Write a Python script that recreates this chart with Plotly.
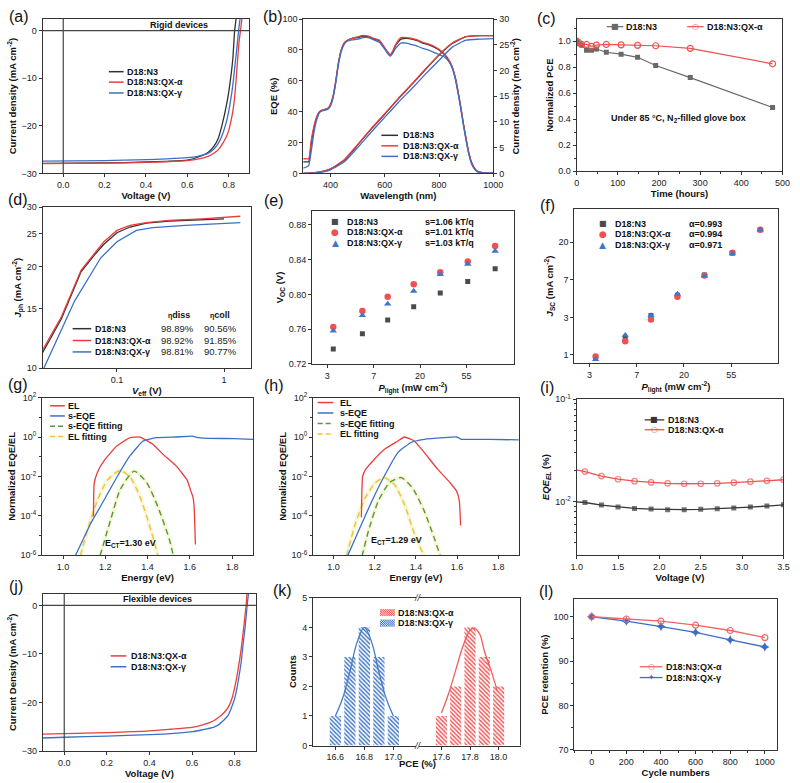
import numpy as np
import plotly.graph_objects as go

W, H = 800, 783
FONT = "Liberation Sans, Arial, Helvetica, sans-serif"
GLYPH = "DejaVu Sans"
RED = "rgb(236,60,60)"
BLUE = "rgb(60,112,196)"
DARK = "rgb(50,50,50)"
GRAY = "rgb(105,105,105)"
GREEN = "rgb(90,150,60)"
GOLD = "rgb(245,192,55)"

# ---------------- data ----------------
# (a) rigid J-V
a_V_n3 = [-0.1, 0.2, 0.4, 0.5, 0.6, 0.65, 0.7, 0.73, 0.75, 0.77, 0.79, 0.80, 0.813, 0.82, 0.829, 0.836]
a_J_n3 = [-27.9, -27.8, -27.6, -27.45, -27.2, -26.6, -25.6, -24.2, -22.6, -19.5, -15.5, -13.0, -8.8, -6.0, 0.0, 2.5]
a_V_a = [-0.1, 0.2, 0.4, 0.5, 0.6, 0.65, 0.7, 0.73, 0.75, 0.77, 0.79, 0.80, 0.81, 0.82, 0.83, 0.84, 0.85, 0.857, 0.864]
a_J_a = [-27.95, -27.85, -27.7, -27.55, -27.3, -27.0, -26.4, -25.7, -25.0, -23.8, -22.2, -21.0, -19.2, -17.0, -13.5, -8.0, -2.5, 0.0, 2.5]
a_V_g = [-0.1, 0.2, 0.4, 0.5, 0.6, 0.65, 0.7, 0.73, 0.75, 0.77, 0.79, 0.80, 0.81, 0.82, 0.83, 0.84, 0.848, 0.855]
a_J_g = [-27.4, -27.3, -27.1, -26.95, -26.7, -26.4, -25.8, -24.8, -23.7, -21.8, -19.0, -17.0, -14.5, -11.5, -7.5, -3.5, 0.0, 2.5]

# (b) EQE + integrated current
b_wl = [300, 310, 320, 330, 340, 350, 360, 370, 380, 390, 400, 410, 420, 430, 440, 450, 460, 480, 500, 520,
        540, 560, 580, 600, 610, 620, 630, 640, 660, 680, 700, 720, 740, 760, 780, 800, 820, 840, 850, 860,
        870, 880, 890, 900, 910, 920, 930, 940, 960, 980, 1000]
b_eqe_n3 = [7.5, 7.5, 7.5, 20, 30, 36, 40, 41, 41.5, 42, 44.5, 50, 60, 72, 80, 84, 86, 87.5, 88, 89,
            88.5, 87, 86, 81, 78.5, 76.5, 79, 83, 87, 87.5, 87, 86, 84.5, 83.5, 82, 80, 77, 72, 68, 62,
            53, 43, 32, 22, 13, 7, 3.5, 1.5, 0.5, 0.2, 0.1]
b_eqe_a = [9.5, 9.5, 9.5, 22, 31, 37, 40, 41, 41.5, 42, 44.5, 50, 60, 72, 80, 84.5, 86, 87.5, 88.5, 89.5,
           89, 87.5, 86.5, 81.5, 79, 77, 79.5, 83.5, 88, 88, 87.5, 86.5, 85, 84, 82.5, 80.5, 77.5, 72.5, 68.5, 62,
           53, 43, 32, 22, 13, 7, 3.5, 1.5, 0.5, 0.2, 0.1]
b_eqe_g = [3.5, 4, 5, 15, 27, 35, 39.5, 40.5, 41, 41.5, 43.5, 49, 59, 71, 79, 83.5, 85.5, 86.5, 87, 88,
           88, 86.5, 85, 80.5, 78, 76, 78, 81, 84.5, 84.5, 83.5, 82.5, 81, 80, 78.5, 77, 75.5, 71.5, 67.5, 61,
           52, 42, 31, 21, 12, 6, 3, 1.2, 0.4, 0.15, 0.1]
b_wlj = [300, 350, 400, 450, 500, 550, 600, 650, 700, 750, 800, 850, 900, 950, 1000]
b_j_n3 = [0, 0.18, 0.85, 2.5, 5.5, 8.6, 11.5, 14.5, 17.3, 20.2, 23.0, 25.3, 26.6, 26.8, 26.8]
b_j_a = [0, 0.2, 0.9, 2.6, 5.6, 8.7, 11.6, 14.6, 17.4, 20.3, 23.1, 25.4, 26.6, 26.8, 26.8]
b_j_g = [0, 0.1, 0.7, 2.2, 5.0, 8.0, 10.9, 13.8, 16.5, 19.3, 22.0, 24.6, 25.9, 26.1, 26.2]

# (c) thermal stability
c_t = [0, 5, 12, 24, 36, 48, 72, 108, 148, 192, 276, 476]
c_n3 = [1.0, 0.98, 0.97, 0.93, 0.93, 0.94, 0.915, 0.90, 0.876, 0.813, 0.72, 0.49]
c_a = [1.0, 0.99, 0.975, 0.975, 0.96, 0.97, 0.975, 0.972, 0.968, 0.965, 0.945, 0.826]

# (d) Jph-Veff
d_V_n3 = [0.0202, 0.0303, 0.0462, 0.0612, 0.0755, 0.1, 0.1324, 0.188, 0.307, 0.621, 1.0]
d_J_n3 = [11.1, 14.0, 19.3, 21.6, 23.3, 25.2, 26.2, 26.9, 27.3, 27.6, 27.7]
d_V_a = [0.0202, 0.0303, 0.0462, 0.0612, 0.0755, 0.1, 0.1324, 0.188, 0.307, 0.621, 1.42]
d_J_a = [11.3, 14.2, 19.5, 21.9, 23.7, 25.6, 26.5, 27.0, 27.4, 27.7, 28.2]
d_V_g = [0.0205, 0.0402, 0.0704, 0.1, 0.152, 0.216, 0.437, 1.42]
d_J_g = [9.9, 15.8, 21.2, 23.7, 25.6, 26.1, 26.5, 27.0]
d_names = ["D18:N3", "D18:N3:QX-α", "D18:N3:QX-γ"]
d_diss = ["98.89%", "98.92%", "98.81%"]
d_coll = ["90.56%", "91.85%", "90.77%"]

# (e),(f) light-intensity dependence
P_light = [3.1, 5.8, 10.0, 17.5, 31.0, 56.0, 101.0]
e_voc_n3 = [0.737, 0.7545, 0.7704, 0.7856, 0.8015, 0.8148, 0.8296]
e_voc_a = [0.7625, 0.7807, 0.7973, 0.8117, 0.8254, 0.8379, 0.8557]
e_voc_g = [0.7579, 0.7757, 0.789, 0.8038, 0.8231, 0.8349, 0.85]
e_s = ["s=1.06 kT/q", "s=1.01 kT/q", "s=1.03 kT/q"]
f_jsc_n3 = [0.92, 1.55, 2.86, 4.9, 8.4, 15.1, 28.0]
f_jsc_a = [0.96, 1.44, 2.57, 4.7, 8.3, 15.2, 28.0]
f_jsc_g = [0.89, 1.69, 2.86, 5.05, 8.2, 14.8, 28.0]
f_alpha = ["α=0.993", "α=0.994", "α=0.971"]
ln_ticktext = ["3", "7", "20", "55"]
ln_ticktext_y = ["1", "3", "7", "20"]

# (g) EL / s-EQE, D18:N3
g_E_el = [1.144, 1.147, 1.163, 1.194, 1.255, 1.317, 1.364, 1.425, 1.472, 1.534, 1.588, 1.603, 1.614, 1.620, 1.626]
g_el = [9.3e-5, 4.3e-3, 1.66e-2, 6.3e-2, 0.355, 0.93, 1.0, 0.43, 0.135, 0.035, 6.3e-3, 2.0e-3, 9.3e-4, 3.0e-4, 3.5e-6]
g_E_eqe = [1.058, 1.132, 1.194, 1.255, 1.317, 1.379, 1.441, 1.534, 1.611, 1.642, 1.688, 1.812, 1.9]
g_eqe = [9.3e-7, 4.3e-5, 6.3e-4, 9.3e-3, 0.112, 0.63, 0.93, 1.0, 1.1, 0.93, 0.85, 0.83, 0.76]
g_E_fel = [1.082, 1.116, 1.163, 1.209, 1.268, 1.317, 1.364, 1.41, 1.449]
g_fel = [9.3e-7, 2.0e-5, 6.3e-4, 6.3e-3, 2.0e-2, 9.3e-3, 9.3e-4, 2.95e-5, 9.3e-7]
g_E_feqe = [1.175, 1.225, 1.271, 1.336, 1.395, 1.449, 1.503, 1.522]
g_feqe = [9.3e-7, 6.3e-5, 2.24e-3, 1.86e-2, 5.0e-3, 2.8e-4, 6.3e-6, 9.3e-7]

# (h) EL / s-EQE, D18:N3:QX-α
h_E_el = [1.135, 1.141, 1.155, 1.186, 1.249, 1.313, 1.344, 1.392, 1.44, 1.503, 1.567, 1.598, 1.611, 1.617]
h_el = [8.3e-5, 1.0e-2, 2.2e-2, 5.4e-2, 0.245, 0.63, 1.0, 0.63, 0.166, 2.5e-2, 4.6e-3, 1.74e-3, 5.6e-4, 3.2e-5]
h_E_eqe = [1.067, 1.122, 1.186, 1.249, 1.313, 1.376, 1.44, 1.535, 1.598, 1.622, 1.638, 1.757, 1.9]
h_eqe = [8.7e-7, 1.8e-5, 5.6e-4, 1.17e-2, 0.166, 0.525, 0.76, 0.93, 1.0, 0.76, 0.76, 0.76, 0.71]
h_E_fel = [1.062, 1.106, 1.154, 1.202, 1.246, 1.297, 1.344, 1.392, 1.44]
h_fel = [8.7e-7, 4.0e-5, 8.3e-4, 4.6e-3, 8.7e-3, 3.7e-3, 3.8e-4, 1.26e-5, 8.7e-7]
h_E_feqe = [1.138, 1.17, 1.217, 1.273, 1.329, 1.384, 1.44, 1.487, 1.519]
h_feqe = [8.7e-7, 1.8e-5, 5.6e-4, 5.0e-3, 8.7e-3, 2.5e-3, 1.78e-4, 8.5e-6, 8.7e-7]

# (i) EQE_EL vs voltage
i_V = [1.0, 1.1, 1.3, 1.5, 1.7, 1.9, 2.1, 2.3, 2.5, 2.7, 2.9, 3.1, 3.3, 3.5]
i_n3 = [0.0100, 0.00985, 0.00929, 0.00889, 0.00863, 0.0085, 0.00838, 0.00838, 0.00844, 0.00856, 0.00869, 0.00889, 0.00909, 0.00935]
i_a = [0.0205, 0.0197, 0.0178, 0.0166, 0.0159, 0.01546, 0.01513, 0.0150, 0.0150, 0.01513, 0.01535, 0.0157, 0.0160, 0.0164]

# (j) flexible J-V
j_V_a = [-0.1, 0.0, 0.2, 0.4, 0.5, 0.6, 0.65, 0.7, 0.724, 0.75, 0.77, 0.79, 0.80, 0.81, 0.82, 0.831, 0.84, 0.854, 0.858]
j_J_a = [-26.5, -26.4, -26.2, -25.85, -25.5, -25.1, -24.6, -23.8, -23.1, -22.1, -21.0, -18.8, -17.0, -14.8, -12.2, -8.9, -5.6, 0.0, 2.4]
j_V_g = [-0.1, 0.0, 0.2, 0.4, 0.5, 0.6, 0.65, 0.7, 0.724, 0.75, 0.77, 0.79, 0.80, 0.81, 0.82, 0.831, 0.84, 0.85, 0.859, 0.865]
j_J_g = [-27.3, -27.15, -26.9, -26.6, -26.4, -26.0, -25.6, -25.1, -24.6, -23.6, -22.6, -20.5, -19.2, -17.3, -14.8, -11.6, -8.0, -4.2, 0.0, 2.4]

# (k) PCE histogram
k_pce_g = [16.6, 16.7, 16.8, 16.9, 17.0]
k_cnt_g = [1, 3, 4, 3, 1]
k_pce_a = [17.6, 17.7, 17.8, 17.9, 18.0]
k_cnt_a = [1, 2, 4, 3, 2]
k_fit_xg = [16.6, 16.65, 16.7, 16.75, 16.8, 16.85, 16.9, 16.95, 17.0]
k_fit_yg = [1.0, 1.6, 2.5, 3.5, 4.0, 3.5, 2.5, 1.6, 1.0]
k_fit_xa = [17.6, 17.65, 17.7, 17.75, 17.8, 17.83, 17.87, 17.9, 17.95, 17.99]
k_fit_ya = [1.1, 1.75, 2.55, 3.35, 3.9, 3.97, 3.75, 3.2, 2.5, 1.85]

# (l) bending cycles
l_cyc = [0, 200, 400, 600, 800, 1000]
l_a = [100, 99.5, 99.0, 98.1, 96.9, 95.3]
l_g = [100, 99.0, 97.8, 96.5, 94.8, 93.2]


# ---------------- helpers ----------------
def X(p):
    return p / W


def Y(p):
    return 1 - p / H


layout = {}
shapes = []
annos = []


def ref(letter, n):
    return letter if n == 1 else f"{letter}{n}"


def axis(n, letter, p0, p1, rng, title="", anchor=None, standoff=3, tsize=9.5, **kw):
    a = dict(showline=True, linecolor="#333", linewidth=1, mirror=True, ticks="outside",
             ticklen=3, tickwidth=1, tickcolor="#333", showgrid=False, zeroline=False,
             tickfont=dict(family=FONT, size=9, color="#222"))
    dom = [X(p0), X(p1)] if letter == "x" else [Y(p1), Y(p0)]
    a.update(domain=dom, range=rng, anchor=anchor)
    if title:
        a["title"] = dict(text=title, font=dict(family=FONT, size=tsize, color="#111"), standoff=standoff)
    a.update(kw)
    layout[f"{letter}axis{'' if n == 1 else n}"] = a


def T(x, y, text, size=9, xanchor="left", bold=True, color="#111", family=FONT):
    annos.append(dict(x=X(x), y=Y(y), xref="paper", yref="paper",
                      text=f"<b>{text}</b>" if bold else text, showarrow=False,
                      xanchor=xanchor, yanchor="middle", borderpad=0,
                      font=dict(family=family, size=size, color=color)))


def G(x, y, ch, color, size=8):
    T(x, y, ch, size, "center", False, color, GLYPH)


def L(x0, x1, y, color, width=1.5, dash="solid"):
    shapes.append(dict(type="line", xref="paper", yref="paper", x0=X(x0), x1=X(x1),
                       y0=Y(y), y1=Y(y), line=dict(color=color, width=width, dash=dash)))


def hatch(x0, y0, x1, y1, color, step=2.2):
    shapes.append(dict(type="rect", xref="paper", yref="paper", x0=X(x0), x1=X(x1),
                       y0=Y(y1), y1=Y(y0), fillcolor=color, line=dict(width=0)))
    c = x0 - y1
    while c < x1 - y0:
        lo = max(x0, y0 + c)
        hi = min(x1, y1 + c)
        if lo < hi:
            shapes.append(dict(type="line", xref="paper", yref="paper", x0=X(lo), y0=Y(lo - c),
                               x1=X(hi), y1=Y(hi - c), line=dict(color="white", width=0.8)))
        c += step


fig = go.Figure()


def line(n, x, y, color, width=1.3, shape="spline", dash="solid", yref=None, smoothing=0.6):
    fig.add_trace(go.Scatter(x=x, y=y, mode="lines",
                             line=dict(color=color, width=width, shape=shape, dash=dash,
                                       smoothing=smoothing if shape == "spline" else None),
                             xaxis=ref("x", n), yaxis=yref or ref("y", n), hoverinfo="skip"))


def pts(n, x, y, color, symbol, size=6, mode="markers", lw=1.2, msize=None, mline=None):
    fig.add_trace(go.Scatter(x=x, y=y, mode=mode,
                             marker=dict(color=color, symbol=symbol, size=msize if msize is not None else size,
                                         line=mline or dict(width=0)),
                             line=dict(color=color, width=lw),
                             xaxis=ref("x", n), yaxis=ref("y", n), hoverinfo="skip"))


def zero_lines(n):
    shapes.append(dict(type="line", xref=f"{ref('x', n)} domain", x0=0, x1=1, yref=ref("y", n), y0=0, y1=0,
                       line=dict(color="#444", width=1.2)))
    shapes.append(dict(type="line", xref=ref("x", n), x0=0, x1=0, yref=f"{ref('y', n)} domain", y0=0, y1=1,
                       line=dict(color="#444", width=1.2)))


def plabel(x, y, s):
    T(x, y, s, 16, "left", False, "#111")


cm2 = "(mA cm<sup>-2</sup>)"

# ---------------- (a) ----------------
axis(1, "x", 37.3, 248.3, [-0.1, 0.9], "<b>Voltage (V)</b>", anchor="y", dtick=0.2, tick0=0, tickformat=".1f")
axis(1, "y", 12, 169, [-30, 2.5], f"<b>Current density {cm2}</b>", anchor="x", dtick=10)
line(1, a_V_n3, a_J_n3, DARK)
line(1, a_V_g, a_J_g, BLUE)
line(1, a_V_a, a_J_a, RED)
zero_lines(1)
T(146, 18.5, "Rigid devices")
for i, (nm, col) in enumerate(zip(d_names, [DARK, RED, BLUE])):
    yy = [65.7, 76.3, 87.3][i]
    L(105, 120, yy, col)
    T(122.5, yy, nm)
plabel(2, 10, "(a)")

# ---------------- (b) ----------------
axis(2, "x", 303.3, 497.3, [300, 1000], "<b>Wavelength (nm)</b>", anchor="y2", dtick=200, tick0=0)
axis(2, "y", 12.3, 169, [0, 100], "<b>EQE (%)</b>", anchor="x2", dtick=20)
layout["yaxis14"] = dict(overlaying="y2", side="right", anchor="x2", range=[0, 30], dtick=5,
                         showline=True, linecolor="#333", linewidth=1, ticks="outside", ticklen=3,
                         tickcolor="#333", showgrid=False, zeroline=False,
                         tickfont=dict(family=FONT, size=9, color="#222"),
                         title=dict(text=f"<b>Current density {cm2}</b>",
                                    font=dict(family=FONT, size=9.5, color="#111"), standoff=3))
for yy, col in [(b_eqe_n3, DARK), (b_eqe_a, RED), (b_eqe_g, BLUE)]:
    line(2, b_wl, yy, col, smoothing=0.5)
for yy, col in [(b_j_n3, DARK), (b_j_a, RED), (b_j_g, BLUE)]:
    line(2, b_wlj, yy, col, yref="y14", smoothing=0.5)
for i, (nm, col) in enumerate(zip(d_names, [DARK, RED, BLUE])):
    yy = [130.3, 141, 151.7][i]
    L(383, 400, yy, col)
    T(404.5, yy, nm)
plabel(261, 10, "(b)")

# ---------------- (c) ----------------
axis(3, "x", 582.3, 792.3, [0, 500], "<b>Time (hours)</b>", anchor="y3", dtick=100,
     minor=dict(ticks="outside", ticklen=2, tickcolor="#333", dtick=50))
axis(3, "y", 12.3, 166.7, [0, 1.17], "<b>Normalized PCE</b>", anchor="x3", dtick=0.2, tickformat=".1f",
     minor=dict(ticks="outside", ticklen=2, tickcolor="#333", dtick=0.1))
pts(3, c_t, c_n3, GRAY, "square", 5, "lines+markers")
pts(3, c_t, c_a, "rgb(240,80,80)", "circle-open", 6, "lines+markers", mline=dict(width=1.2, color="rgb(240,80,80)"))
L(613, 630, 20, GRAY, 1.2)
G(621.5, 20, "■", GRAY, 8)
T(632, 20, "D18:N3")
L(695, 712, 20, "rgb(240,80,80)", 1.2)
G(703.5, 20, "○", "rgb(240,80,80)", 8)
T(714, 20, "D18:N3:QX-α")
T(686.5, 113.3, "Under 85 °C, N<sub>2</sub>-filled glove box", xanchor="center")
plabel(541, 12, "(c)")

# ---------------- (d) ----------------
axis(4, "x", 37.3, 250, [np.log10(0.0202), np.log10(1.786)], "<b><i>V</i><sub>eff</sub> (V)</b>", anchor="y4",
     type="log", tickvals=[0.1, 1], ticktext=["0.1", "1"])
axis(4, "y", 203.3, 366.7, [1, np.log10(30)], f"<b><i>J</i><sub>ph</sub> {cm2}</b>", anchor="x4",
     type="log", tickvals=[10, 15, 20, 25, 30], ticktext=["10", "15", "20", "25", "30"])
line(4, d_V_n3, d_J_n3, DARK, shape="linear")
line(4, d_V_g, d_J_g, BLUE, shape="linear")
line(4, d_V_a, d_J_a, RED, shape="linear")
T(176.5, 312.5, "<span style='font-size:7px'>η</span>diss", xanchor="center")
T(218.5, 312.5, "<span style='font-size:7px'>η</span>coll", xanchor="center")
for i, (nm, col) in enumerate(zip(d_names, [DARK, RED, BLUE])):
    yy = [326.7, 338.7, 350.3][i]
    L(68, 87, yy, col)
    T(90, yy, nm)
    T(175, yy, d_diss[i], 9.5, "center", False, "#222")
    T(218.5, yy, d_coll[i], 9.5, "center", False, "#222")
plabel(1, 196, "(d)")

# ---------------- (e) ----------------
ln_ticks = list(np.exp([1, 2, 3, 4]))
axis(5, "x", 312.3, 518.3, [0.293, 2.18], f"<b><i>P</i><sub>light</sub> (mW cm<sup>-2</sup>)</b>", anchor="y5",
     type="log", tickvals=ln_ticks, ticktext=ln_ticktext)
axis(5, "y", 207.3, 362.3, [0.72, 0.896], "<b>V<sub>OC</sub> (V)</b>", anchor="x5", dtick=0.04, tick0=0.72,
     tickformat=".2f")
pts(5, P_light, e_voc_n3, "rgb(75,75,75)", "square", 5)
pts(5, P_light, e_voc_a, "rgb(242,80,80)", "circle", 6.5)
pts(5, P_light, e_voc_g, "rgb(60,120,205)", "triangle-up", 6.5)
for i, (nm, col, ch) in enumerate(zip(d_names, ["rgb(75,75,75)", "rgb(242,80,80)", "rgb(60,120,205)"], ["■", "●", "▲"])):
    yy = [218.3, 229, 240][i]
    G(336, yy, ch, col, 8 if i == 0 else 9)
    T(347, yy, nm)
    T(426.5, yy, e_s[i])
plabel(262, 197, "(e)")

# ---------------- (f) ----------------
axis(6, "x", 580, 787.3, [0.2966, 2.163], f"<b><i>P</i><sub>light</sub> (mW cm<sup>-2</sup>)</b>", anchor="y6",
     type="log", tickvals=ln_ticks, ticktext=ln_ticktext)
axis(6, "y", 205, 361.7, [-0.0955, 1.689], f"<b><i>J</i><sub>SC</sub> {cm2}</b>", anchor="x6",
     type="log", tickvals=list(np.exp([0, 1, 2, 3])), ticktext=ln_ticktext_y)
pts(6, P_light, f_jsc_n3, "rgb(75,75,75)", "square", 5)
pts(6, P_light, f_jsc_a, "rgb(242,80,80)", "circle", 6.5)
pts(6, P_light, f_jsc_g, "rgb(60,120,205)", "triangle-up", 6.5)
for i, (nm, col, ch) in enumerate(zip(d_names, ["rgb(75,75,75)", "rgb(242,80,80)", "rgb(60,120,205)"], ["■", "●", "▲"])):
    yy = [220, 230.7, 241.7][i]
    G(609, yy, ch, col, 8 if i == 0 else 9)
    T(620.5, yy, nm)
    T(695.5, yy, f_alpha[i])
plabel(544, 202, "(f)")

# ---------------- (g),(h) ----------------
exp_vals = [1e-6, 1e-4, 1e-2, 1, 100]
exp_text = ["10<sup>-6</sup>", "10<sup>-4</sup>", "10<sup>-2</sup>", "10<sup>0</sup>", "10<sup>2</sup>"]
HALO = "rgba(236,242,175,0.5)"
for n, (x0, x1), data, ect, ectpos, legx, legy in [
    (7, (36.7, 252.3), (g_E_el, g_el, g_E_eqe, g_eqe, g_E_feqe, g_feqe, g_E_fel, g_fel), "1.30", (100, 545),
     (45, 60, 62.3), [405, 415.3, 425.7, 436.3]),
    (8, (313.3, 523.3), (h_E_el, h_el, h_E_eqe, h_eqe, h_E_feqe, h_feqe, h_E_fel, h_fel), "1.29", (371.5, 542.3),
     (318, 334, 339.5), [401.7, 412.3, 423, 433.7])]:
    axis(n, "x", x0, x1, [0.9, 1.9], "<b>Energy (eV)</b>", anchor=ref("y", n), dtick=0.2, tick0=1.0,
         tickformat=".1f")
    axis(n, "y", 396.7, 556.7, [-6, 2], "<b>Normalized EQE/EL</b>", anchor=ref("x", n), type="log",
         tickvals=exp_vals, ticktext=exp_text,
         minor=dict(ticks="outside", ticklen=2, tickcolor="#333", tickvals=[1e-5, 1e-3, 1e-1, 10]))
    Eel, el, Eeq, eq, Efe, fe, Efl, fl = data
    line(n, Efe, fe, HALO, width=4)
    line(n, Efl, fl, HALO, width=4)
    line(n, Efe, fe, GREEN, width=1.4, dash="6px,4px")
    line(n, Efl, fl, GOLD, width=1.4, dash="6px,4px")
    line(n, Eel, el, RED, smoothing=0.4)
    line(n, Eeq, eq, BLUE, smoothing=0.4)
    names = ["EL", "s-EQE", "s-EQE fitting", "EL fitting"]
    cols = [RED, BLUE, GREEN, GOLD]
    for i in range(4):
        L(legx[0], legx[1], legy[i], cols[i], 1.5, "solid" if i < 2 else "5px,3px")
        T(legx[2], legy[i], names[i])
    T(ectpos[0], ectpos[1], f"E<sub>CT</sub>={ect} eV")
plabel(1, 383, "(g)")
plabel(262, 384, "(h)")

# ---------------- (i) ----------------
axis(9, "x", 582.3, 793.3, [1.0, 3.5], "<b>Voltage (V)</b>", anchor="y9", dtick=0.5, tick0=1.0, tickformat=".1f")
axis(9, "y", 398.3, 556.7, [-2.52, -1], "<b><i>EQE</i><sub><i>EL</i></sub> (%)</b>", anchor="x9", type="log",
     tickvals=[0.01, 0.1], ticktext=["10<sup>-2</sup>", "10<sup>-1</sup>"],
     minor=dict(ticks="outside", ticklen=2, tickcolor="#333",
                tickvals=[0.004, 0.005, 0.006, 0.007, 0.008, 0.009, 0.02, 0.03, 0.04, 0.05, 0.06, 0.07, 0.08, 0.09]))
msz = [0] + [5.5] * (len(i_V) - 1)
pts(9, i_V, i_n3, "rgb(55,55,55)", "square", mode="lines+markers", msize=[0] + [5] * (len(i_V) - 1), lw=1.3)
pts(9, i_V, i_a, "rgb(240,80,80)", "circle-open", mode="lines+markers", msize=msz, lw=1.3,
    mline=dict(width=1.2, color="rgb(240,80,80)"))
L(651.7, 671.7, 419.3, "rgb(55,55,55)", 1.3)
G(661.7, 419.3, "■", "rgb(55,55,55)", 8)
T(674, 419.3, "D18:N3")
L(651.7, 671.7, 429.3, "rgb(240,80,80)", 1.3)
G(661.7, 429.3, "○", "rgb(240,80,80)", 8)
T(674, 429.3, "D18:N3:QX-α")
plabel(544, 386, "(i)")

# ---------------- (j) ----------------
axis(10, "x", 37.7, 255, [-0.1, 0.9], "<b>Voltage (V)</b>", anchor="y10", dtick=0.2, tick0=0, tickformat=".1f")
axis(10, "y", 595.7, 755.7, [-30, 2.43], f"<b>Current Density {cm2}</b>", anchor="x10", dtick=10)
line(10, j_V_g, j_J_g, BLUE)
line(10, j_V_a, j_J_a, RED)
zero_lines(10)
T(155, 601.5, "Flexible devices", xanchor="center")
L(106.7, 122.7, 659, RED)
T(126.5, 659, "D18:N3:QX-α")
L(106.7, 122.7, 670, BLUE)
T(126.5, 670, "D18:N3:QX-γ")
plabel(2, 589, "(j)")

# ---------------- (k) ----------------
KB = "rgb(72,124,200)"
KR = "rgb(240,92,92)"
axis(11, "x", 313.3, 418.5, [16.446, 17.157], "", anchor="y11", tickvals=[16.6, 16.8, 17.0], tickformat=".1f",
     mirror=True)
axis(12, "x", 421.5, 525, [17.444, 18.153], "", anchor="y11", tickvals=[17.6, 17.8, 18.0], tickformat=".1f",
     mirror=True)
axis(11, "y", 600, 750, [0, 5], "<b>Counts</b>", anchor="x11", dtick=1, mirror=False)
for xs, ys, col, xa in [(k_pce_g, k_cnt_g, KB, "x11"), (k_pce_a, k_cnt_a, KR, "x12")]:
    fig.add_trace(go.Bar(x=xs, y=ys, width=0.078, xaxis=xa, yaxis="y11", hoverinfo="skip",
                         marker=dict(color=col, line=dict(width=0),
                                     pattern=dict(shape="\\", fgcolor="white", bgcolor=col, size=3,
                                                  solidity=0.5, fillmode="replace"))))
fig.add_trace(go.Scatter(x=k_fit_xg, y=k_fit_yg, mode="lines", line=dict(color=KB, width=1.3, shape="spline"),
                         xaxis="x11", yaxis="y11", hoverinfo="skip"))
fig.add_trace(go.Scatter(x=k_fit_xa, y=k_fit_ya, mode="lines", line=dict(color=KR, width=1.3, shape="spline"),
                         xaxis="x12", yaxis="y11", hoverinfo="skip"))
shapes.append(dict(type="line", xref="paper", yref="paper", x0=X(525), x1=X(525), y0=Y(750), y1=Y(600),
                   line=dict(color="#333", width=1)))
T(420, 600, "<i>//</i>", 9, "center", False, "#333")
T(420, 750, "<i>//</i>", 9, "center", False, "#333")
T(420, 768.5, "PCE (%)", 9.5, "center")
hatch(381.7, 611.5, 396.7, 618.5, KR)
T(399.3, 615, "D18:N3:QX-α")
hatch(381.7, 622.2, 396.7, 629.2, KB)
T(399.3, 625.7, "D18:N3:QX-γ")
plabel(271, 593, "(k)")

# ---------------- (l) ----------------
axis(13, "x", 580, 786.7, [-100, 1070], "<b>Cycle numbers</b>", anchor="y13", dtick=200, tick0=0,
     minor=dict(ticks="outside", ticklen=2, tickcolor="#333", dtick=100))
axis(13, "y", 601.7, 754.3, [70, 103.9], "<b>PCE retention (%)</b>", anchor="x13", dtick=10,
     minor=dict(ticks="outside", ticklen=2, tickcolor="#333", dtick=5))
LR = "rgb(240,100,100)"
LB = "rgb(60,110,200)"
pts(13, l_cyc, l_g, LB, "star-diamond", 7, "lines+markers", lw=1.3)
pts(13, l_cyc, l_a, LR, "circle-open", 6, "lines+markers", lw=1.3, mline=dict(width=1.2, color=LR))
L(646.7, 670, 670, LR, 1.3)
G(658.3, 670, "○", LR, 8)
T(672.3, 670, "D18:N3:QX-α")
L(646.7, 670, 681, LB, 1.3)
G(658.3, 681, "✦", LB, 8)
T(672.3, 681, "D18:N3:QX-γ")
plabel(543, 594, "(l)")

layout.update(width=W, height=H, margin=dict(l=0, r=0, t=0, b=0), showlegend=False,
              paper_bgcolor="white", plot_bgcolor="white", shapes=shapes, annotations=annos,
              font=dict(family=FONT, size=9, color="#111"), barmode="overlay")
fig.update_layout(**layout)
fig.write_html("out.html")
